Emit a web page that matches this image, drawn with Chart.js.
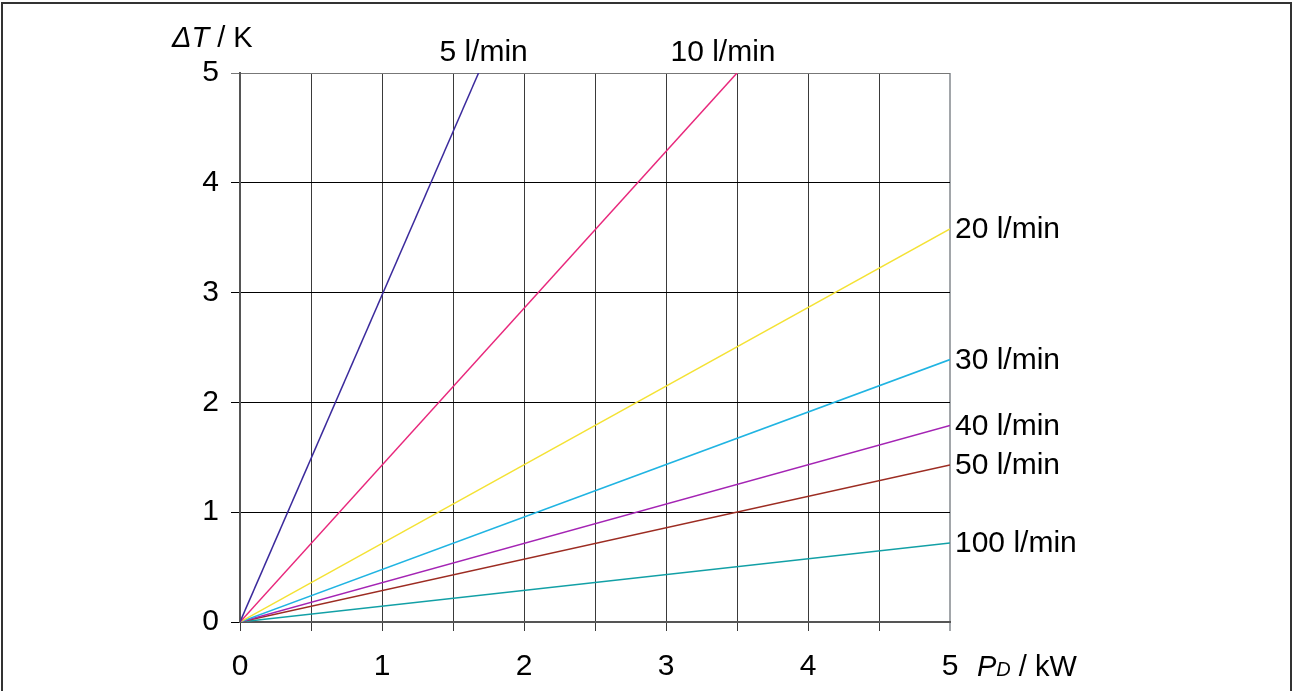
<!DOCTYPE html>
<html>
<head>
<meta charset="utf-8">
<script src="https://cdn.jsdelivr.net/npm/chart.js@4.4.1/dist/chart.umd.min.js"></script>
<style>
  body { margin: 0; background: #fff; }
  canvas { display: block; }
</style>
</head>
<body>
<canvas id="dtChart" width="1293" height="691"></canvas>
<script>
// flow rates and where each line leaves the plot (P in kW, dT in K)
const flowLabels = ['5 l/min', '10 l/min', '20 l/min', '30 l/min', '40 l/min', '50 l/min', '100 l/min'];
const endPower = [1.68, 3.5, 5, 5, 5, 5, 5];
const endDeltaT = [5, 5, 3.58, 2.39, 1.79, 1.43, 0.72];
const lineColors = ['#3b2a9c', '#e8287c', '#f4e234', '#20b4e2', '#a424b4', '#9c2c22', '#12a0a6'];
// horizontal nudge for the labels above the plot
const topLabelShift = [5, -14, 0, 0, 0, 0, 0];

const xMax = 5, yMax = 5;
const FONT = "'Liberation Sans', Arial, sans-serif";

Chart.defaults.font.family = FONT;
Chart.defaults.color = '#000';

const datasets = flowLabels.map((lbl, i) => ({
    label: lbl,
    data: [{ x: 0, y: 0 }, { x: endPower[i], y: endDeltaT[i] }],
    borderColor: lineColors[i],
    borderWidth: 1.5,
    pointRadius: 0,
    showLine: true,
    fill: false
}));

// frame, axis titles and line labels
const decorations = {
    id: 'decorations',
    beforeDraw(chart) {
        const ctx = chart.ctx;
        ctx.save();
        ctx.fillStyle = '#fff';
        ctx.fillRect(0, 0, chart.width, chart.height);
        ctx.restore();
    },
    afterDraw(chart) {
        const ctx = chart.ctx;
        const area = chart.chartArea;
        ctx.save();

        // outer frame
        ctx.strokeStyle = '#333';
        ctx.lineWidth = 2;
        ctx.beginPath();
        ctx.moveTo(2, chart.height);
        ctx.lineTo(2, 3);
        ctx.lineTo(chart.width - 2, 3);
        ctx.lineTo(chart.width - 2, chart.height);
        ctx.stroke();

        ctx.fillStyle = '#000';
        ctx.textBaseline = 'alphabetic';

        // y title
        let x = 172;
        ctx.font = 'italic 29px ' + FONT;
        ctx.textAlign = 'left';
        ctx.fillText('ΔT', x, 47);
        x += ctx.measureText('ΔT').width;
        ctx.font = '29px ' + FONT;
        ctx.fillText(' / K', x, 47);

        // x title
        x = 977;
        ctx.font = 'italic 29px ' + FONT;
        ctx.fillText('P', x, 676);
        x += ctx.measureText('P').width;
        ctx.font = 'italic 20px ' + FONT;
        ctx.fillText('D', x, 676);
        x += ctx.measureText('D').width;
        ctx.font = '29px ' + FONT;
        ctx.fillText(' / kW', x, 676);

        // line labels
        ctx.font = '30px ' + FONT;
        chart.data.datasets.forEach((ds, i) => {
            const pts = chart.getDatasetMeta(i).data;
            const p = pts[pts.length - 1];
            if (endPower[i] < xMax) {
                ctx.textAlign = 'center';
                ctx.textBaseline = 'alphabetic';
                ctx.fillText(ds.label, p.x + topLabelShift[i], area.top - 12);
            } else {
                ctx.textAlign = 'left';
                ctx.textBaseline = 'middle';
                ctx.fillText(ds.label, p.x + 5, p.y + 1);
            }
        });
        ctx.restore();
    }
};

const ctx = document.getElementById('dtChart').getContext('2d');
const dtChart = new Chart(ctx, {
    type: 'scatter',
    data: { datasets: datasets },
    options: {
        responsive: false,
        animation: false,
        layout: {
            padding: { left: 0, top: 73, right: 343, bottom: 0 }
        },
        plugins: {
            legend: { display: false },
            tooltip: { enabled: false }
        },
        scales: {
            x: {
                type: 'linear',
                min: 0,
                max: xMax,
                afterFit(scale) { scale.height = 69; },
                ticks: {
                    stepSize: 0.5,
                    autoSkip: false,
                    maxRotation: 0,
                    padding: 18,
                    font: { size: 30 },
                    callback: v => Number.isInteger(v) ? v : ''
                },
                grid: {
                    tickLength: 9,
                    color: c => c.tick && c.tick.value === xMax ? '#a2a6aa' : '#3a3a3a',
                    lineWidth: c => c.tick && c.tick.value === xMax ? 2 : 1
                },
                border: { display: true, color: '#555', width: 2 }
            },
            y: {
                type: 'linear',
                min: 0,
                max: yMax,
                afterFit(scale) { scale.width = 240; },
                ticks: {
                    stepSize: 1,
                    padding: 12,
                    font: { size: 30 }
                },
                grid: {
                    tickLength: 9,
                    color: c => c.tick && c.tick.value === yMax ? '#777' : '#000',
                    lineWidth: 1
                },
                border: { display: true, color: '#555', width: 2 }
            }
        }
    },
    plugins: [decorations]
});
</script>
</body>
</html>
